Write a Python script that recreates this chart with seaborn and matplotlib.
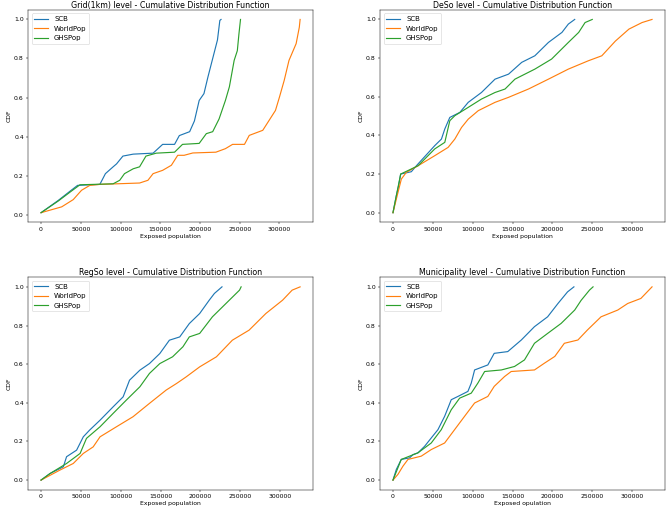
import matplotlib
matplotlib.use("Agg")
import matplotlib.pyplot as plt
import seaborn as sns

# Curves (exposed population, CDF)
# Grid(1km) level
grid_scb_x = [0, 21700, 38000, 46000, 74000, 81000, 90700, 95000, 103000, 116000, 141000,
              153000, 168000, 174000, 187000, 193000, 199000, 205000, 210000, 216000, 222000, 225000, 226500]
grid_scb_y = [0.01, 0.073, 0.125, 0.15, 0.155, 0.21, 0.245, 0.26, 0.30, 0.31, 0.315,
              0.36, 0.36, 0.405, 0.425, 0.48, 0.585, 0.62, 0.705, 0.80, 0.895, 0.995, 1.0]
grid_wp_x = [0, 26000, 40500, 51000, 61400, 74000, 124000, 134500, 141000, 153000, 164000, 172000,
             180000, 191000, 220000, 232000, 241000, 256000, 262000, 279000, 287000, 295000, 300000,
             306000, 312000, 321000, 325000, 326000]
grid_wp_y = [0.01, 0.04, 0.077, 0.125, 0.15, 0.155, 0.162, 0.176, 0.21, 0.227, 0.253, 0.304,
             0.304, 0.316, 0.32, 0.338, 0.36, 0.36, 0.406, 0.432, 0.483, 0.534, 0.602,
             0.688, 0.79, 0.876, 0.96, 1.0]
grid_ghs_x = [0, 21700, 38000, 49000, 90700, 99000, 105000, 116000, 124000, 132000, 145000, 168000,
              178000, 199000, 208000, 216000, 224000, 232000, 237000, 243000, 247000, 249000, 251000]
grid_ghs_y = [0.01, 0.07, 0.12, 0.153, 0.158, 0.176, 0.21, 0.235, 0.245, 0.30, 0.315, 0.32,
              0.36, 0.365, 0.415, 0.425, 0.49, 0.585, 0.655, 0.79, 0.84, 0.925, 1.0]

# DeSo level
deso_scb_x = [0, 4200, 7100, 9650, 23000, 29400, 52400, 60800, 65000, 71300, 83900, 94400, 111000,
              128000, 145000, 161500, 178000, 195000, 212000, 220000, 228000]
deso_scb_y = [0, 0.088, 0.14, 0.2, 0.212, 0.243, 0.347, 0.381, 0.433, 0.493, 0.519, 0.571, 0.622,
              0.691, 0.717, 0.778, 0.812, 0.881, 0.933, 0.976, 1.0]
deso_wp_x = [0, 6300, 10500, 16800, 31500, 52400, 69200, 77600, 86000, 94400, 107000, 128000, 145000,
             170000, 195000, 220000, 245000, 262000, 279000, 296000, 312500, 325000]
deso_wp_y = [0, 0.105, 0.174, 0.209, 0.243, 0.295, 0.338, 0.381, 0.441, 0.484, 0.528, 0.571, 0.597,
             0.64, 0.691, 0.743, 0.786, 0.812, 0.888, 0.95, 0.984, 1.0]
deso_ghs_x = [0, 4200, 9650, 31500, 52400, 65000, 71300, 77600, 94400, 111000, 128000, 140600,
              153000, 178000, 199000, 220000, 233000, 241000, 250000]
deso_ghs_y = [0, 0.088, 0.2, 0.243, 0.33, 0.364, 0.476, 0.502, 0.545, 0.588, 0.622, 0.64,
              0.691, 0.743, 0.795, 0.881, 0.933, 0.984, 1.0]

# RegSo level
regso_scb_x = [0, 11250, 28000, 32000, 44600, 53000, 61000, 74000, 90400, 103000, 111000, 124000,
               136000, 149000, 161000, 174000, 186000, 199000, 211000, 217500, 227000]
regso_scb_y = [0, 0.034, 0.069, 0.121, 0.155, 0.224, 0.259, 0.31, 0.379, 0.431, 0.517, 0.569,
               0.603, 0.655, 0.724, 0.741, 0.81, 0.862, 0.931, 0.966, 1.0]
regso_wp_x = [0, 23750, 40400, 53000, 65400, 74000, 94600, 115400, 136000, 157000, 170000, 182000,
              199000, 220000, 240000, 261000, 282000, 303000, 315000, 325000]
regso_wp_y = [0, 0.052, 0.086, 0.138, 0.172, 0.224, 0.276, 0.328, 0.397, 0.466, 0.5, 0.534,
              0.586, 0.638, 0.724, 0.776, 0.862, 0.931, 0.983, 1.0]
regso_ghs_x = [0, 11250, 32000, 49000, 57000, 74000, 90400, 107000, 124000, 136000, 149000, 165000,
               178000, 186000, 199000, 215000, 232000, 249000, 251000]
regso_ghs_y = [0, 0.034, 0.086, 0.138, 0.216, 0.276, 0.345, 0.414, 0.483, 0.552, 0.603, 0.638,
               0.69, 0.741, 0.759, 0.845, 0.914, 0.983, 1.0]

# Municipality level
muni_scb_x = [0, 4200, 10400, 20900, 25100, 31300, 39700, 48000, 56400, 64800, 73100, 81500, 94000,
              98200, 102400, 119000, 127000, 144000, 161000, 177500, 194000, 207000, 219000, 227000]
muni_scb_y = [0, 0.055, 0.107, 0.115, 0.132, 0.141, 0.175, 0.218, 0.261, 0.33, 0.416, 0.433, 0.459,
              0.502, 0.57, 0.596, 0.656, 0.665, 0.725, 0.794, 0.845, 0.914, 0.974, 1.0]
muni_wp_x = [0, 6300, 12500, 18800, 35500, 48000, 64800, 77300, 89800, 102400, 119000, 127000, 140000,
             148300, 177500, 190000, 203000, 215000, 232000, 244000, 261000, 282000, 294500, 311000, 325000]
muni_wp_y = [0, 0.03, 0.072, 0.107, 0.124, 0.158, 0.192, 0.261, 0.33, 0.399, 0.433, 0.485, 0.536,
             0.562, 0.57, 0.605, 0.64, 0.708, 0.725, 0.777, 0.845, 0.88, 0.914, 0.94, 1.0]
muni_ghs_x = [0, 10400, 31300, 48000, 60600, 73100, 83600, 98200, 106500, 115000, 136000, 152500,
              165000, 177500, 194000, 211000, 228000, 236000, 246500, 251000]
muni_ghs_y = [0, 0.107, 0.141, 0.192, 0.261, 0.364, 0.424, 0.45, 0.502, 0.562, 0.57, 0.588,
              0.622, 0.708, 0.759, 0.811, 0.88, 0.93, 0.983, 1.0]

sources = ["SCB", "WorldPop", "GHSPop"]
colors = ["#1f77b4", "#ff7f0e", "#2ca02c"]

panels = [
    ("Grid(1km) level - Cumulative Distribution Function", "Exposed population",
     [(grid_scb_x, grid_scb_y), (grid_wp_x, grid_wp_y), (grid_ghs_x, grid_ghs_y)]),
    ("DeSo level - Cumulative Distribution Function", "Exposed population",
     [(deso_scb_x, deso_scb_y), (deso_wp_x, deso_wp_y), (deso_ghs_x, deso_ghs_y)]),
    ("RegSo level - Cumulative Distribution Function", "Exposed population",
     [(regso_scb_x, regso_scb_y), (regso_wp_x, regso_wp_y), (regso_ghs_x, regso_ghs_y)]),
    ("Municipality level - Cumulative Distribution Function", "Exposed opulation",
     [(muni_scb_x, muni_scb_y), (muni_wp_x, muni_wp_y), (muni_ghs_x, muni_ghs_y)]),
]

# large figure at low dpi so the default font sizes scale like the reference
dpi = 44.0
fig, axes = plt.subplots(2, 2, figsize=(669 / dpi, 515 / dpi), dpi=dpi)
fig.subplots_adjust(left=0.042, right=0.994, top=0.981, bottom=0.049, wspace=0.235, hspace=0.258)

for ax, (title, xlabel, curves) in zip(axes.flat, panels):
    for (xs, ys), name, col in zip(curves, sources, colors):
        sns.lineplot(x=xs, y=ys, ax=ax, label=name, color=col, sort=False,
                     estimator=None, linewidth=1.9)
    ax.set_title(title, fontsize=12.8, pad=2)
    ax.set_xlabel(xlabel)
    ax.set_ylabel("CDF")
    ax.legend(loc="upper left", fontsize=11.5)

fig.savefig("out.png", dpi=dpi)
